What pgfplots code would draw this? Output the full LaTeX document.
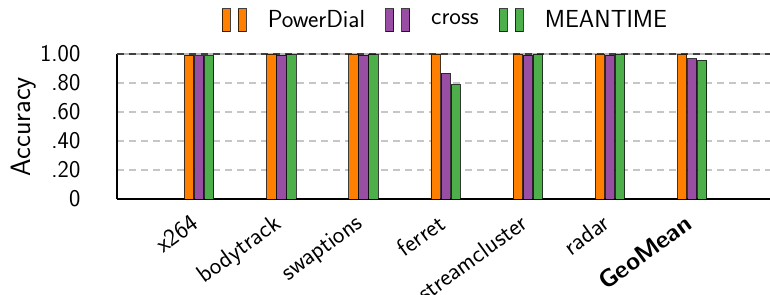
\documentclass[border=0pt]{standalone}
\usepackage{pgfplots}
\pgfplotsset{compat=1.18}
\usetikzlibrary{calc}
\renewcommand{\familydefault}{\sfdefault}
\definecolor{cOrange}{HTML}{FF7F00}
\definecolor{cPurple}{HTML}{984EA3}
\definecolor{cGreen}{HTML}{4DAF4A}
\pgfplotsset{
  twobar legend/.style={
    legend image code/.code={
      \draw[##1,line width=0.6pt] (0pt,-8.5pt) rectangle (6pt,8.5pt);
      \draw[##1,line width=0.6pt] (12pt,-8.5pt) rectangle (18pt,8.5pt);
    }
  }
}
\begin{document}
\begin{tikzpicture}
\begin{axis}[
  name=ax,
  scale only axis,
  width=493pt, height=108.75pt,
  xmin=0, xmax=8, ymin=0, ymax=1,
  clip=false,
  axis x line*=bottom, axis y line*=left,
  axis line style={line width=1pt, black},
  ybar=0.5pt, bar width=7pt,
  ytick={0,0.2,0.4,0.6,0.8,1},
  yticklabels={0,.20,.40,.60,.80,1.00},
  yticklabel style={font=\fontsize{18}{20}\selectfont, xshift=-24pt},
  ytick style={draw=none},
  ymajorgrids,
  grid style={gray!45, dash pattern=on 5pt off 4pt, line width=0.8pt},
  xtick={1,2,3,4,5,6,7},
  xticklabels={x264,bodytrack,swaptions,ferret,streamcluster,radar,\textbf{GeoMean}},
  x tick label style={font=\fontsize{18.5}{20}\selectfont, rotate=36, anchor=north east, inner sep=0pt, xshift=-9pt, yshift=-1pt},
  xtick style={draw=none},
  ylabel={Accuracy},
  ylabel style={font=\fontsize{21}{23}\selectfont, at={(axis description cs:-0.142,0.5)}, anchor=center},
  legend style={at={(0.5,1)}, anchor=south, yshift=14pt, draw=none, fill=none,
    font=\fontsize{18.5}{20}\selectfont, legend columns=-1,
    /tikz/every odd column/.append style={column sep=14pt},
    /tikz/every even column/.append style={column sep=13pt}},
  legend cell align=left,
  every axis plot/.append style={draw=black, draw opacity=0.75, line width=0.7pt, twobar legend},
]
\coordinate (O) at (rel axis cs:0,0);
\draw[gray!55, line width=1pt] (rel axis cs:0,1) -- (rel axis cs:1,1);
\draw[black!75, line width=0.8pt, dash pattern=on 5pt off 4pt] (rel axis cs:0,1) -- (rel axis cs:1,1);
\addplot[fill=cOrange] coordinates {(1,0.993) (2,1.0) (3,1.0) (4,1.0) (5,1.0) (6,1.0) (7,0.998)};
\addplot[fill=cPurple] coordinates {(1,0.988) (2,0.993) (3,0.993) (4,0.866) (5,0.993) (6,0.993) (7,0.967)};
\addplot[fill=cGreen] coordinates {(1,0.988) (2,0.995) (3,0.995) (4,0.788) (5,0.998) (6,0.998) (7,0.956)};
\legend{PowerDial,cross,MEANTIME}
\end{axis}
\pgfresetboundingbox
\path[use as bounding box] ($(O)+(-87.75pt,-71.25pt)$) rectangle ($(O)+(489.75pt,149.25pt)$);
\end{tikzpicture}
\end{document}
